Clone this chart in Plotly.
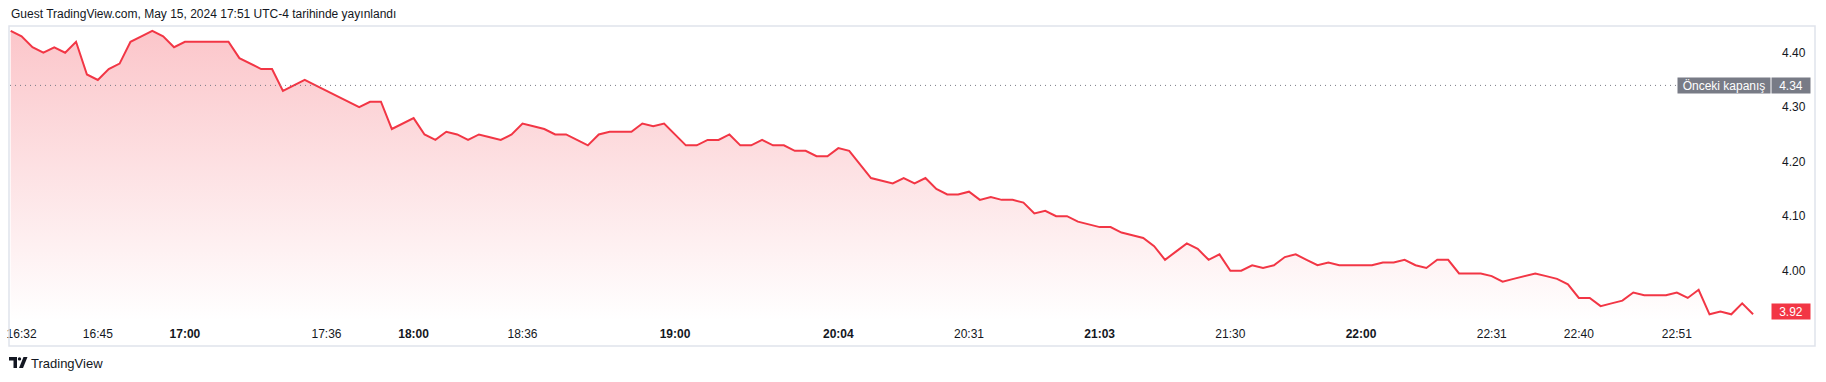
import plotly.graph_objects as go

# ---- data ----
prices = [
    4.44, 4.43, 4.41, 4.40, 4.41, 4.40, 4.42, 4.36, 4.35, 4.37,
    4.38, 4.42, 4.43, 4.44, 4.43, 4.41, 4.42, 4.42, 4.42, 4.42,
    4.42, 4.39, 4.38, 4.37, 4.37, 4.33, 4.34, 4.35, 4.34, 4.33,
    4.32, 4.31, 4.30, 4.31, 4.31, 4.26, 4.27, 4.28, 4.25, 4.24,
    4.255, 4.25, 4.24, 4.25, 4.245, 4.24, 4.25, 4.27, 4.265, 4.26,
    4.25, 4.25, 4.24, 4.23, 4.25, 4.255, 4.255, 4.255, 4.27, 4.265,
    4.27, 4.25, 4.23, 4.23, 4.24, 4.24, 4.25, 4.23, 4.23, 4.24,
    4.23, 4.23, 4.22, 4.22, 4.21, 4.21, 4.225, 4.22, 4.195, 4.17,
    4.165, 4.16, 4.17, 4.16, 4.17, 4.15, 4.14, 4.14, 4.145, 4.13,
    4.135, 4.13, 4.13, 4.125, 4.105, 4.11, 4.10, 4.10, 4.09, 4.085,
    4.08, 4.08, 4.07, 4.065, 4.06, 4.045, 4.02, 4.035, 4.05, 4.04,
    4.02, 4.03, 4.00, 4.00, 4.01, 4.005, 4.01, 4.025, 4.03, 4.02,
    4.01, 4.015, 4.01, 4.01, 4.01, 4.01, 4.015, 4.015, 4.02, 4.01,
    4.005, 4.02, 4.02, 3.995, 3.995, 3.995, 3.99, 3.98, 3.985, 3.99,
    3.995, 3.99, 3.985, 3.975, 3.95, 3.95, 3.935, 3.94, 3.945, 3.96,
    3.955, 3.955, 3.955, 3.96, 3.95, 3.965, 3.92, 3.925, 3.92, 3.94,
    3.92,
]
bar_index = list(range(len(prices)))

time_tick_index = [1, 8, 16, 29, 37, 47, 61, 76, 88, 100, 112, 124, 136, 144, 153]
time_tick_labels = ["16:32", "16:45", "17:00", "17:36", "18:00", "18:36", "19:00",
                    "20:04", "20:31", "21:03", "21:30", "22:00", "22:31", "22:40", "22:51"]
bold_labels = {"17:00", "18:00", "19:00", "20:04", "21:03", "22:00"}

price_ticks = [4.00, 4.10, 4.20, 4.30, 4.40]
prev_close = 4.34
last_price = prices[-1]

title_text = "Guest TradingView.com, May 15, 2024 17:51 UTC-4 tarihinde yayınlandı"

# ---- geometry (pixels) ----
W, H = 1826, 382
PL, PR, PT, PB = 10, 1768, 26, 321
pw, ph = PR - PL, PB - PT


def px(x):
    return (x - PL) / pw


def py(y):
    return (PB - y) / ph


FONT = "Liberation Sans, Arial, sans-serif"
RED = "#F23645"
TXT = "#131722"

fig = go.Figure()
fig.add_trace(go.Scatter(
    x=bar_index, y=prices, mode="lines",
    line=dict(color=RED, width=2),
    fill="tozeroy",
    fillgradient=dict(type="vertical",
                      colorscale=[[0, "rgba(242,54,69,0.0)"], [1, "rgba(242,54,69,0.29)"]],
                      start=3.9077, stop=4.449),
    hoverinfo="skip", showlegend=False,
))

ticktext = [f"<b>{t}</b>" if t in bold_labels else t for t in time_tick_labels]

shapes = [
    dict(type="line", xref="paper", yref="y", x0=0, x1=1, y0=prev_close, y1=prev_close,
         line=dict(color="#787B86", width=1, dash="1px,4px")),
    dict(type="rect", xref="paper", yref="paper", x0=px(9), x1=px(1815), y0=py(346), y1=py(26),
         line=dict(color="#E0E3EB", width=1.5), fillcolor="rgba(0,0,0,0)", layer="above"),
    # TradingView logo
    dict(type="path", xref="paper", yref="paper",
         path=f"M {px(9)} {py(357)} L {px(17)} {py(357)} L {px(17)} {py(368)} L {px(13.5)} {py(368)} "
              f"L {px(13.5)} {py(360.5)} L {px(9)} {py(360.5)} Z",
         fillcolor=TXT, line=dict(width=0)),
    dict(type="circle", xref="paper", yref="paper",
         x0=px(17.8), x1=px(21.2), y0=py(360.6), y1=py(357.2),
         fillcolor=TXT, line=dict(width=0)),
    dict(type="path", xref="paper", yref="paper",
         path=f"M {px(23.5)} {py(357)} L {px(27.5)} {py(357)} L {px(23)} {py(368)} L {px(19)} {py(368)} Z",
         fillcolor=TXT, line=dict(width=0)),
]

annotations = [
    dict(text=title_text, xref="paper", yref="paper", x=px(9), y=py(14),
         xanchor="left", yanchor="middle", showarrow=False,
         font=dict(family=FONT, size=12, color=TXT)),
    dict(text="TradingView", xref="paper", yref="paper", x=px(29), y=py(363),
         xanchor="left", yanchor="middle", showarrow=False,
         font=dict(family=FONT, size=13, color=TXT)),
    dict(text="Önceki kapanış", xref="paper", yref="y", x=px(1771), y=prev_close,
         xanchor="right", yanchor="middle", showarrow=False, bgcolor="#787B86",
         borderpad=0, width=92, height=15, font=dict(family=FONT, size=12, color="white")),
    dict(text=f"{prev_close:.2f}", xref="paper", yref="y", x=px(1791), y=prev_close,
         xanchor="center", yanchor="middle", showarrow=False, bgcolor="#787B86",
         borderpad=0, width=38, height=15, font=dict(family=FONT, size=12, color="white")),
    dict(text=f"{last_price:.2f}", xref="paper", yref="y", x=px(1791), y=last_price,
         xanchor="center", yanchor="middle", yshift=3, showarrow=False, bgcolor=RED,
         borderpad=0, width=38, height=15, font=dict(family=FONT, size=12, color="white")),
]

fig.update_layout(
    width=W, height=H,
    margin=dict(l=PL, r=W - PR, t=PT, b=H - PB, pad=0, autoexpand=False),
    paper_bgcolor="white", plot_bgcolor="white",
    font=dict(family=FONT, size=12, color=TXT),
    xaxis=dict(range=[-0.064, 161.37], tickvals=time_tick_index, ticktext=ticktext,
               showgrid=False, zeroline=False, showline=False, ticks="",
               ticklabelstandoff=4, automargin=False,
               tickfont=dict(family=FONT, size=12, color=TXT), fixedrange=True),
    yaxis=dict(range=[3.9077, 4.449], side="right", tickvals=price_ticks,
               ticktext=[f"{v:.2f}" for v in price_ticks],
               showgrid=False, zeroline=False, showline=False, ticks="",
               ticklabelstandoff=13, automargin=False,
               tickfont=dict(family=FONT, size=12, color=TXT), fixedrange=True),
    shapes=shapes, annotations=annotations,
    showlegend=False,
)

fig.write_html("out.html", config={"displayModeBar": False},
               post_script="document.body.style.margin='0';document.body.style.overflow='hidden';")
